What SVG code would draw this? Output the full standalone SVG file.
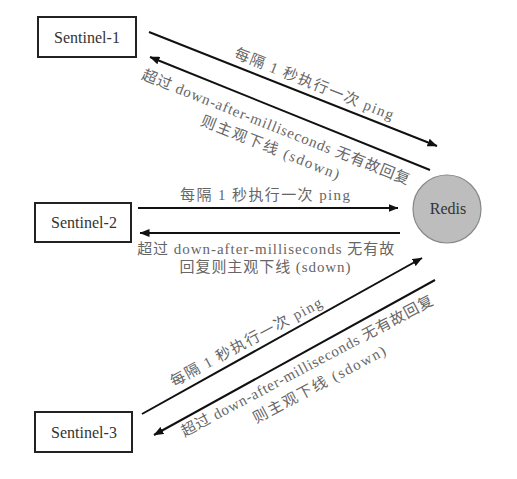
<svg xmlns="http://www.w3.org/2000/svg" width="517" height="479" viewBox="0 0 517 479">
<defs>
<marker id="ah" viewBox="0 0 10 8" refX="9.5" refY="4" markerWidth="10" markerHeight="8" markerUnits="userSpaceOnUse" orient="auto">
<path d="M0,0 L10,4 L0,8 Z" fill="#111"/>
</marker>
</defs>
<rect width="517" height="479" fill="#fff"/>
<g id="sentinel-1">
<rect x="38" y="17" width="98" height="40" fill="#fff" stroke="#222" stroke-width="2"/>
<text x="87" y="43" font-family="Liberation Serif" font-size="16" fill="#333" text-anchor="middle">Sentinel-1</text>
</g>
<g id="sentinel-2">
<rect x="35" y="203" width="96" height="39" fill="#fff" stroke="#222" stroke-width="2"/>
<text x="84" y="228" font-family="Liberation Serif" font-size="16" fill="#333" text-anchor="middle">Sentinel-2</text>
</g>
<g id="sentinel-3">
<rect x="35" y="412" width="97" height="40" fill="#fff" stroke="#222" stroke-width="2"/>
<text x="84" y="438" font-family="Liberation Serif" font-size="16" fill="#333" text-anchor="middle">Sentinel-3</text>
</g>
<g id="redis">
<circle cx="447" cy="209" r="34" fill="#bdbdbd" stroke="#888" stroke-width="1.2"/>
<text x="448" y="214" font-family="Liberation Serif" font-size="16" fill="#333" text-anchor="middle">Redis</text>
</g>
<g id="connectors" stroke="#111" stroke-width="2" fill="none" marker-end="url(#ah)">
<line x1="149" y1="32" x2="437" y2="146"/>
<line x1="430" y1="170" x2="150" y2="57"/>
<line x1="138" y1="208" x2="398" y2="208"/>
<line x1="400" y1="233" x2="140" y2="233"/>
<line x1="142" y1="414" x2="422" y2="258"/>
<line x1="435" y1="280" x2="154" y2="435"/>
</g>
<g id="labels" fill="#666" font-size="15" text-anchor="middle">
<text font-family="Liberation Serif, Noto Sans CJK SC, serif" transform="translate(314,84) rotate(21.7)" x="0" y="5" textLength="170" lengthAdjust="spacing">每隔 1 秒执行一次 ping</text>
<text font-family="Liberation Serif, Noto Sans CJK SC, serif" transform="translate(278,128) rotate(21.7)">
<tspan x="0" y="5" textLength="287" lengthAdjust="spacing">超过 down-after-milliseconds 无有故回复</tspan>
<tspan x="0" y="26" textLength="148" lengthAdjust="spacing">则主观下线 (sdown)</tspan>
</text>
<text font-family="Liberation Serif, Noto Sans CJK SC, serif" x="265" y="200" textLength="170" lengthAdjust="spacing">每隔 1 秒执行一次 ping</text>
<text font-family="Liberation Serif, Noto Sans CJK SC, serif">
<tspan x="268" y="254" textLength="257" lengthAdjust="spacing">超过 down-after-milliseconds 无有故</tspan>
<tspan x="265" y="272" textLength="171" lengthAdjust="spacing">回复则主观下线 (sdown)</tspan>
</text>
<text font-family="Liberation Serif, Noto Sans CJK SC, serif" transform="translate(246,342) rotate(-28.5)" x="0" y="5" textLength="170" lengthAdjust="spacing">每隔 1 秒执行一次 ping</text>
<text font-family="Liberation Serif, Noto Sans CJK SC, serif" transform="translate(309,365) rotate(-28)">
<tspan x="0" y="5" textLength="283" lengthAdjust="spacing">超过 down-after-milliseconds 无有故回复</tspan>
<tspan x="0" y="27" textLength="148" lengthAdjust="spacing">则主观下线 (sdown)</tspan>
</text>
</g>
</svg>
